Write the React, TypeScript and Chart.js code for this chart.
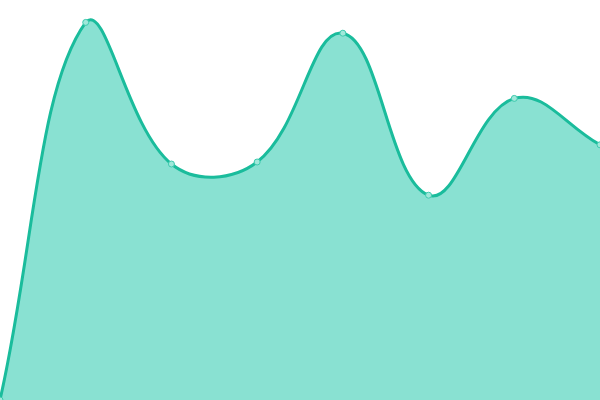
import React, { useEffect, useRef } from "react";
import { Chart, registerables } from "chart.js";

Chart.register(...registerables);

const labels = ["A", "B", "C", "D", "E", "F", "G", "H"];
const values = [0, 94.4, 59, 59.5, 91.7, 51.2, 75.4, 63.8];

export default function App() {
  const ref = useRef<HTMLCanvasElement | null>(null);
  useEffect(() => {
    document.body.style.margin = "0";
    const chart = new Chart(ref.current!, {
      type: "line",
      data: {
        labels,
        datasets: [
          {
            data: values,
            fill: true,
            tension: 0.4,
            borderColor: "#1abc9c",
            backgroundColor: "rgba(20,195,165,0.5)",
            borderWidth: 3,
            pointRadius: 3,
            pointBorderWidth: 1,
            pointBackgroundColor: "#a0e8da",
            pointBorderColor: "#3cc9ad",
          },
        ],
      },
      options: {
        animation: false,
        responsive: true,
        maintainAspectRatio: false,
        layout: { autoPadding: false, padding: 0 },
        plugins: { legend: { display: false }, tooltip: { enabled: false } },
        scales: {
          x: { display: false },
          y: { display: false, min: 0, max: 100 },
        },
      },
    });
    return () => chart.destroy();
  }, []);
  return (
    <div style={{ width: 600, height: 400, position: "relative" }}>
      <canvas ref={ref} />
    </div>
  );
}
